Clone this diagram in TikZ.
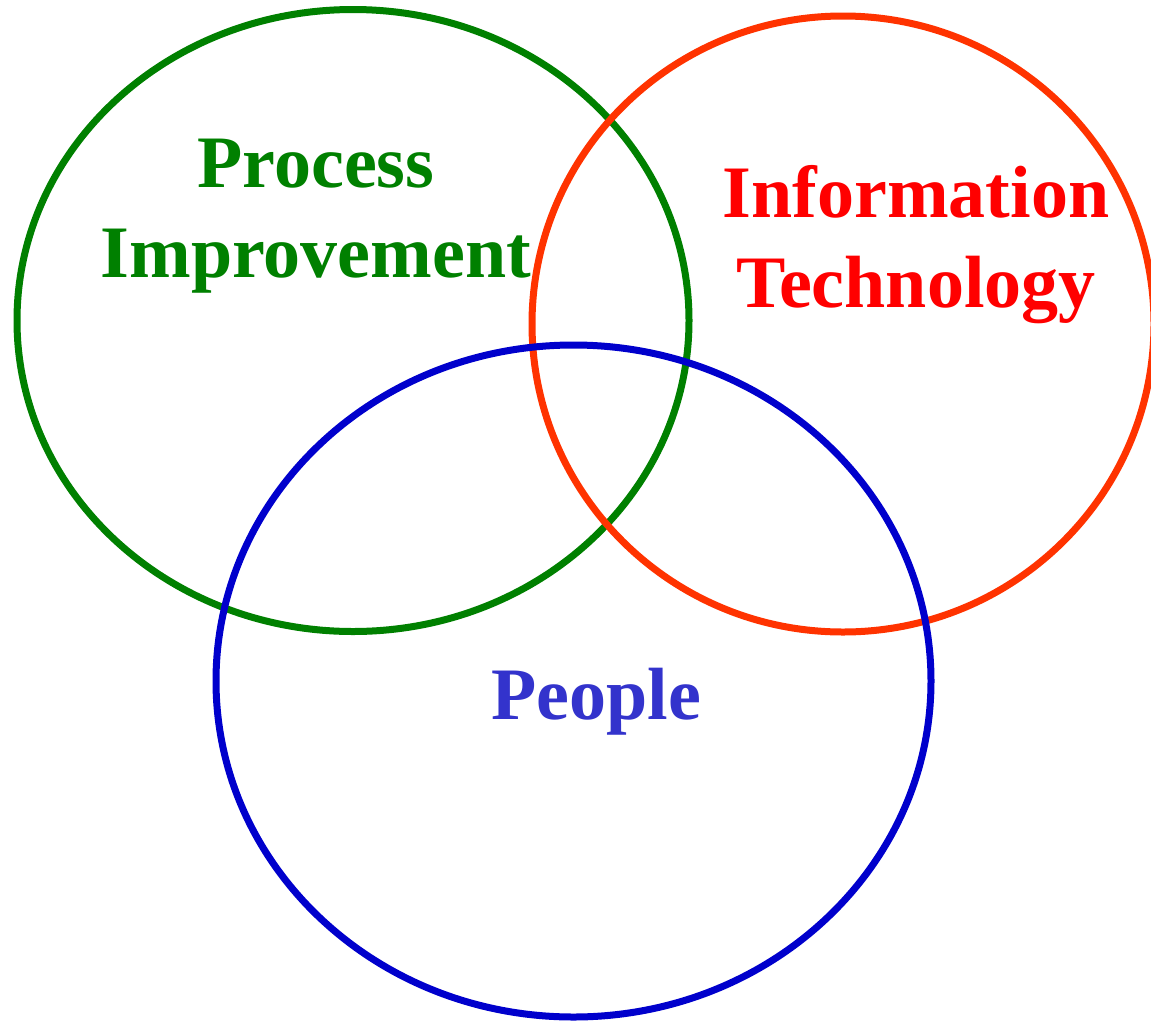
\documentclass[tikz,border=0pt]{standalone}
\usepackage{fontspec}
\setmainfont{Liberation Serif}
\definecolor{pgreen}{RGB}{0,128,0}
\definecolor{pred}{RGB}{255,51,0}
\definecolor{tred}{RGB}{255,0,0}
\definecolor{pblue}{RGB}{0,0,204}
\definecolor{tblue}{RGB}{51,51,204}
\begin{document}
\begin{tikzpicture}[x=1pt,y=-1pt,
  ring/.style={line width=7pt},
  lbl/.style={font=\bfseries\fontsize{74}{90}\selectfont, align=center, inner sep=0pt}]
\useasboundingbox (0,0) rectangle (1151,1021);
\draw[ring, pgreen] (353,320.5) ellipse [x radius=336pt, y radius=311pt];
\draw[ring, pred] (843,324) ellipse [x radius=311pt, y radius=308pt];
\draw[ring, pblue] (573.5,681) ellipse [x radius=357.5pt, y radius=336pt];
\node[lbl, text=pgreen, anchor=base] (pi) at (316,277) {Process\\Improvement};
\node[lbl, text=tred, anchor=base] (it) at (916,307) {Information\\Technology};
\node[lbl, text=tblue, anchor=base] (pe) at (596.5,719) {People};
\end{tikzpicture}
\end{document}
